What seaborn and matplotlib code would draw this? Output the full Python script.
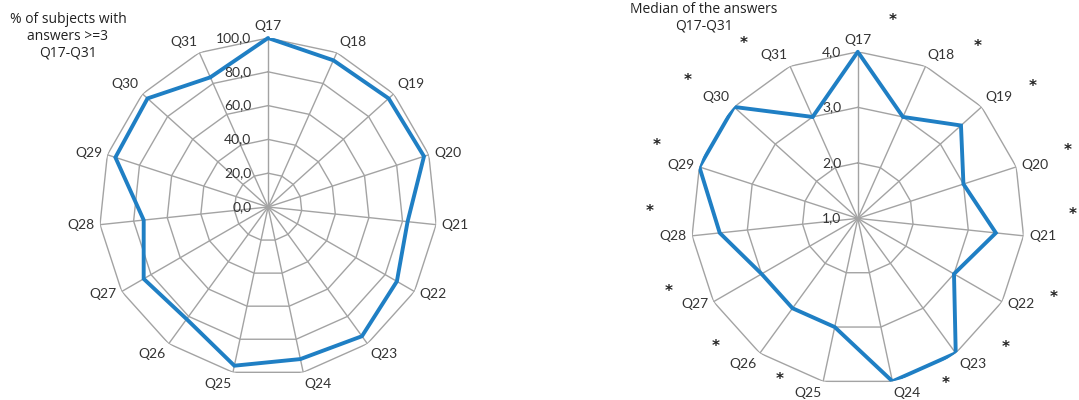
import numpy as np
import pandas as pd
import matplotlib
matplotlib.use("Agg")
import matplotlib.pyplot as plt
import seaborn as sns

# questions on the spokes, clockwise from the top
questions = ["Q17", "Q18", "Q19", "Q20", "Q21", "Q22", "Q23", "Q24",
             "Q25", "Q26", "Q27", "Q28", "Q29", "Q30", "Q31"]

# left chart: % of subjects with answers >= 3
pct_values = [100.0, 95.0, 96.0, 97.0, 83.0, 88.0, 94.5, 92.0,
              96.0, 82.0, 85.0, 74.0, 95.0, 96.0, 84.0]
pct_ticks = [0, 20, 40, 60, 80, 100]
pct_tick_labels = ["0,0", "20,0", "40,0", "60,0", "80,0", "100,0"]

# right chart: median of the answers
median_values = [4.0, 3.0, 3.5, 3.0, 3.5, 3.0, 4.0, 4.0,
                 3.0, 3.0, 3.0, 3.5, 4.0, 4.0, 3.0]
median_ticks = [1, 2, 3, 4]
median_tick_labels = ["1,0", "2,0", "3,0", "4,0"]

# asterisks (significance marks) next to every label of the right chart
star_angle_offset = [10, 11, 5, 0, -7, -8, -13, -16, 14, 12, 9, 8, 2, -3, -9]
star_radius = [4.62, 4.77, 4.94, 4.98, 4.87, 4.80, 4.53, 4.37,
               4.23, 4.44, 4.65, 4.75, 4.85, 4.94, 4.76]

BLUE = "#1f7fc4"
GRID = "#a3a3a3"
TXT = "#333333"

sns.set_theme(style="white")
plt.rcParams["font.family"] = ["Lato", "DejaVu Sans"]
plt.rcParams["path.simplify"] = False

n = len(questions)
step = 360.0 / n
theta = np.deg2rad(np.arange(n) * step)
theta_closed = np.append(theta, 2 * np.pi)


def radar(ax, values, ticks, tick_labels):
    ax.set_theta_zero_location("N")
    ax.set_theta_direction(-1)
    ax.set_ylim(ticks[0], ticks[-1])
    ax.set_xticks(theta)
    ax.set_facecolor("none")
    ax.spines["polar"].set_visible(False)
    ax.set_xticklabels([])
    ax.xaxis.grid(True, color=GRID, lw=1.0)
    ax.yaxis.grid(False)
    ax.set_yticks([])

    # polygonal web rings
    for lvl in ticks[1:]:
        ax.plot(theta_closed, [lvl] * (n + 1), color=GRID, lw=1.0, zorder=1)

    # profile line Q17 -> Q31
    df = pd.DataFrame({"theta": theta, "value": values})
    sns.lineplot(data=df, x="theta", y="value", sort=False, estimator=None,
                 ax=ax, color=BLUE, lw=2.8, zorder=3,
                 solid_joinstyle="miter", solid_capstyle="round")
    # closing segment Q31 -> Q17
    close_df = pd.DataFrame({"theta": [theta[-1], 2 * np.pi],
                             "value": [values[-1], values[0]]})
    sns.lineplot(data=close_df, x="theta", y="value", sort=False,
                 estimator=None, ax=ax, color=BLUE, lw=2.8, zorder=3,
                 solid_capstyle="round", clip_on=False)
    ax.set_xlabel("")
    ax.set_ylabel("")

    for lvl, lab in zip(ticks, tick_labels):
        ax.annotate(lab, xy=(0, lvl), xytext=(-12, 0), textcoords="offset points",
                    ha="right", va="center", fontsize=10, color=TXT, zorder=4)

    # category labels just outside the outer ring
    gap = 4
    for t, q in zip(theta, questions):
        s, c = np.sin(t), np.cos(t)
        ha = "left" if s > 0.1 else ("right" if s < -0.1 else "center")
        va = "bottom" if c > 0.55 else ("top" if c < -0.55 else "center")
        ax.annotate(q, xy=(t, ticks[-1]), xytext=(s * gap, c * gap),
                    textcoords="offset points", ha=ha, va=va, fontsize=10,
                    color=TXT, annotation_clip=False)


fig = plt.figure(figsize=(10.79, 4.0), dpi=100)

ax1 = fig.add_axes([0.0918, 0.06, 0.3133, 0.845], projection="polar")
radar(ax1, pct_values, pct_ticks, pct_tick_labels)

ax2 = fig.add_axes([0.6405, 0.0375, 0.309, 0.833], projection="polar")
radar(ax2, median_values, median_ticks, median_tick_labels)

for t, off, r in zip(theta, star_angle_offset, star_radius):
    ax2.text(t + np.deg2rad(off), r, "*", ha="center", va="center",
             fontsize=11, fontweight="bold", family=["DejaVu Sans"],
             color="#222222", clip_on=False)

fig.text(0.063, 0.97, "% of subjects with\nanswers >=3\nQ17-Q31", ha="center",
         va="top", fontsize=10, family=["Open Sans", "DejaVu Sans"],
         color="#222222", linespacing=1.15)
fig.text(0.652, 0.995, "Median of the answers\nQ17-Q31", ha="center", va="top",
         fontsize=10, family=["Open Sans", "DejaVu Sans"], color="#222222",
         linespacing=1.15)

fig.savefig("out.png", dpi=100)
